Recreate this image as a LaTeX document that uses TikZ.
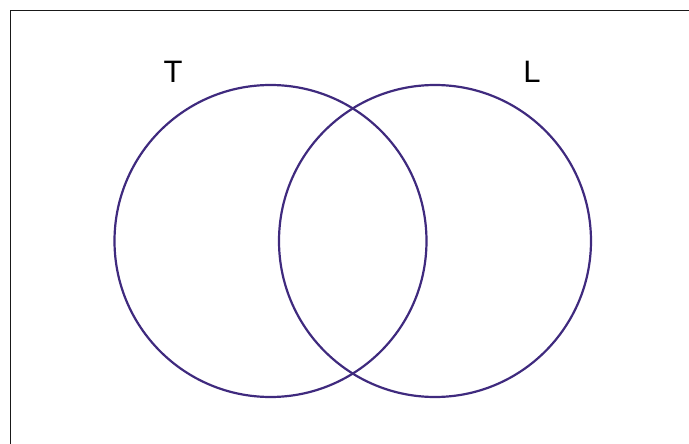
\documentclass[tikz,border=0pt]{standalone}
\usepackage{fontspec}
\setmainfont{Liberation Sans}
\usepackage{xcolor}
\usepackage{tikz}
\definecolor{vennpurple}{HTML}{3F2A7E}

\begin{document}
\begin{tikzpicture}[x=1pt, y=-1pt,
      setcircle/.style={draw=vennpurple, line width=2.2pt},
      setlabel/.style={font=\fontsize{31}{31}\selectfont, inner sep=0pt}
    ]
      \useasboundingbox (0,0) rectangle (689,444);
      \draw[line width=1.7pt, black!90] (10.5,460) -- (10.5,10.5) -- (700,10.5);
      \node[setcircle, circle, minimum size=312pt, inner sep=0pt] (tset) at (270.5,241) {};
      \node[setcircle, circle, minimum size=312pt, inner sep=0pt] (lset) at (435,241) {};
      \node[setlabel] (tlabel) at (173,71.5) {T};
      \node[setlabel] (llabel) at (532,71.5) {L};
    \end{tikzpicture}
\end{document}
